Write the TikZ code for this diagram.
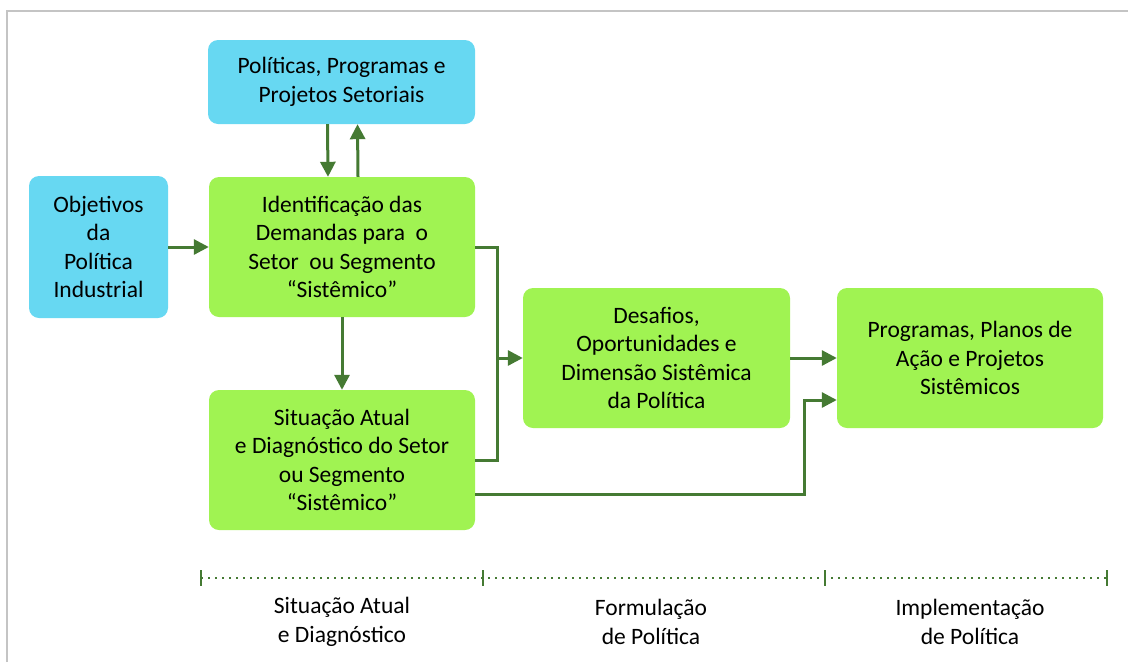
\documentclass[tikz,border=0pt]{standalone}
\usepackage{fontspec}
\setmainfont{Carlito}
\usetikzlibrary{arrows.meta}
\definecolor{cyanbox}{HTML}{67D8F2}
\definecolor{greenbox}{HTML}{A0F352}
\definecolor{arrowgreen}{HTML}{457A33}
\definecolor{bordergray}{HTML}{C4C4C4}
\tikzset{
  box/.style={rounded corners=10pt, minimum width=#1, inner sep=0pt, align=center,
    font=\fontsize{23.5}{28.6}\selectfont, text=black},
  cbox/.style={box=#1, fill=cyanbox},
  gbox/.style={box=#1, fill=greenbox},
  arr/.style={draw=arrowgreen, line width=3pt, -{Triangle[length=15pt,width=15pt]}},
  conn/.style={draw=arrowgreen, line width=3pt},
  tick/.style={draw=arrowgreen, line width=2.5pt},
  dots/.style={draw=arrowgreen, line width=2pt, dash pattern=on 2pt off 5pt},
  lab/.style={align=center, font=\fontsize{23.5}{28.6}\selectfont, text=black}
}
\begin{document}
\begin{tikzpicture}[x=1pt,y=-1pt]
\useasboundingbox (0,0) rectangle (1128,662);
\draw[bordergray, line width=1.5pt] (7,662) -- (7,11) -- (1130,11);

\node[cbox=267pt, minimum height=84pt] (pps) at (341.5,82) {Políticas, Programas e\\Projetos Setoriais};
\node[cbox=139pt, minimum height=142pt] (obj) at (98.5,247) {Objetivos\\da\\Política\\Industrial};
\node[gbox=266pt, minimum height=140pt] (idd) at (342,247) {Identificação das\\Demandas para\ \ o\\Setor\ \ ou Segmento\\“Sistêmico”};
\node[gbox=266pt, minimum height=140pt] (sit) at (342,460) {Situação Atual\\e Diagnóstico do Setor\\ou Segmento\\“Sistêmico”};
\node[gbox=267pt, minimum height=140pt] (des) at (656.5,358) {Desafios,\\Oportunidades e\\Dimensão Sistêmica\\da Política};
\node[gbox=266pt, minimum height=140pt] (prog) at (970,358) {Programas, Planos de\\Ação e Projetos\\Sistêmicos};

\coordinate (jx) at (497,358);
\coordinate (k) at (804,400);

\draw[arr] ([xshift=-14pt]pps.south) -- ([xshift=-14pt]idd.north);
\draw[arr] ([xshift=16pt]idd.north) -- ([xshift=16pt]pps.south);
\draw[arr] (obj.east) -- (idd.west);
\draw[arr] (idd.south) -- (sit.north);
\draw[conn] (idd.east) -| (jx) |- (sit.east);
\draw[arr] (jx) -- (des.west);
\draw[arr] (des.east) -- (prog.west);
\draw[arr] ([yshift=-34pt]sit.east) -| (k) -- ([yshift=-42pt]prog.west);

\coordinate (t1) at (201,578);
\coordinate (t2) at (483,578);
\coordinate (t3) at (825,578);
\coordinate (t4) at (1107,578);
\draw[dots] (t1) -- (t4);
\foreach \t in {t1,t2,t3,t4} \draw[tick] ([yshift=8pt]\t) -- ([yshift=-8pt]\t);

\node[lab] (l1) at (342,622) {Situação Atual\\e Diagnóstico};
\node[lab] (l2) at (651,622) {Formulação\\de Política};
\node[lab] (l3) at (970,622) {Implementação\\de Política};
\end{tikzpicture}
\end{document}
